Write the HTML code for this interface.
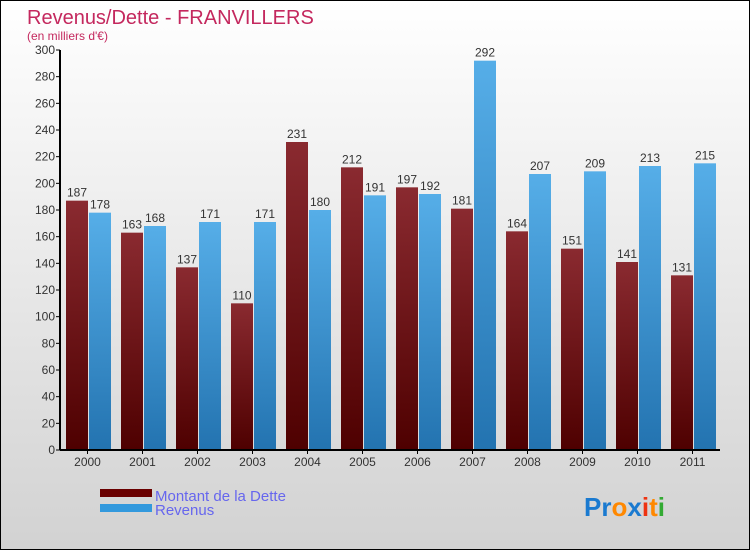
<!DOCTYPE html>
<html><head><meta charset="utf-8"><style>
body{margin:0}
#c{position:relative;width:748px;height:548px;border:1px solid #000;background:linear-gradient(#ffffff,#d2d2d2);font-family:"Liberation Sans",sans-serif;overflow:hidden}
</style></head><body>
<div id="c">
<svg width="748" height="548" id="s">
<defs>
<linearGradient id="gr" x1="0" y1="0" x2="0" y2="1"><stop offset="0" stop-color="#8a2a30"/><stop offset="1" stop-color="#4e0000"/></linearGradient>
<linearGradient id="gb" x1="0" y1="0" x2="0" y2="1"><stop offset="0" stop-color="#56aee8"/><stop offset="1" stop-color="#2373b0"/></linearGradient>
</defs>
<text x="26" y="23" font-size="20" fill="#c4285e">Revenus/Dette - FRANVILLERS</text>
<text x="26" y="39" font-size="12" fill="#c4285e">(en milliers d'€)</text>
<g id="bars"></g>
<g id="axes"></g>
<rect x="99" y="488" width="52" height="8" fill="#6a0000"/>
<rect x="99" y="503" width="52" height="8" fill="#3399dd"/>
<text x="154" y="500" font-size="15" fill="#6666ee">Montant de la Dette</text>
<text x="154" y="514" font-size="15" fill="#6666ee">Revenus</text>
<text x="583" y="515" font-size="26" font-weight="bold"><tspan fill="#1a7ad0">Pr</tspan><tspan fill="#ff8800">o</tspan><tspan fill="#1a7ad0">x</tspan><tspan fill="#ee3311">i</tspan><tspan fill="#ff8800">t</tspan><tspan fill="#33aa33">i</tspan></text>
</svg>
</div>
<script>
const years=["2000","2001","2002","2003","2004","2005","2006","2007","2008","2009","2010","2011"];
const dette=[187,163,137,110,231,212,197,181,164,151,141,131];
const revenus=[178,168,171,171,180,191,192,292,207,209,213,215];
const yTicks=[0,20,40,60,80,100,120,140,160,180,200,220,240,260,280,300];
const NS="http://www.w3.org/2000/svg";
const x0=59,gw=55,y0=449,ppu=400/300;
const yS=v=>y0-v*ppu;
const gx=i=>x0+i*gw;
const bars=document.getElementById('bars'),axes=document.getElementById('axes');
function mk(t,a,p){const e=document.createElementNS(NS,t);for(const k in a)e.setAttribute(k,a[k]);p.appendChild(e);return e;}
years.forEach((y,i)=>{
 [[dette[i],'url(#gr)',6,'bar-dette'],[revenus[i],'url(#gb)',29,'bar-revenus']].forEach(([v,f,off,n])=>{
  const r=mk('rect',{x:gx(i)+off,y:yS(v),width:22,height:v*ppu,fill:f},bars);
  
  
  const t=mk('text',{x:gx(i)+off+11,y:yS(v)-4,'font-size':12,'text-anchor':'middle',fill:'#333'},bars);
  t.textContent=v;
  
  
 });
 const tk=mk('line',{x1:gx(i)+27.5,x2:gx(i)+27.5,y1:y0,y2:y0+4,stroke:'#000'},axes);
 
 
 const l=mk('text',{x:gx(i)+27.5,y:y0+16,'font-size':12,'text-anchor':'middle',fill:'#333'},axes);
 l.textContent=y;
 
 
});
yTicks.forEach(v=>{
 const tk=mk('line',{x1:x0-4,x2:x0,y1:yS(v),y2:yS(v),stroke:'#000'},axes);
 
 
 const l=mk('text',{x:x0-5,y:yS(v)+4,'font-size':12,'text-anchor':'end',fill:'#333'},axes);
 l.textContent=v;
 
 
});
const ya=mk('line',{x1:x0,x2:x0,y1:yS(300),y2:y0,stroke:'#000','stroke-width':2},axes);


const xa=mk('line',{x1:x0,x2:x0+gw*years.length,y1:y0,y2:y0,stroke:'#000','stroke-width':2},axes);


</script>
</body></html>
